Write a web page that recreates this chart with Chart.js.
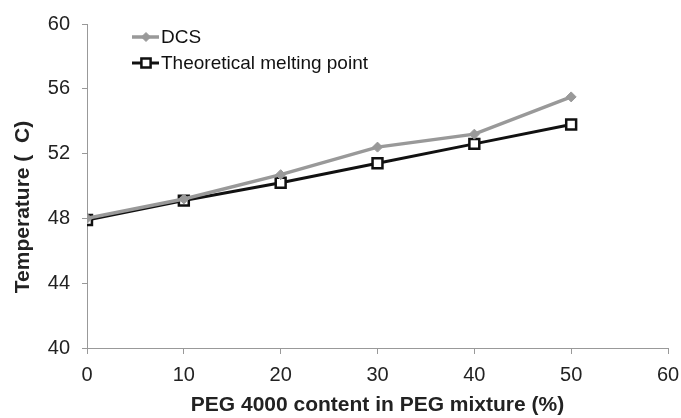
<!DOCTYPE html>
<html>
<head>
<meta charset="utf-8">
<script src="https://cdn.jsdelivr.net/npm/chart.js@4/dist/chart.umd.min.js"></script>
<style>
  body { margin: 0; background: #fff; }
  #wrap { width: 681px; height: 418px; }
</style>
</head>
<body>
<div id="wrap"><canvas id="mycanvas"></canvas></div>
<script>
var pegContent = [0, 10, 20, 30, 40, 50];
var dcsValues = [48.0, 49.2, 50.7, 52.4, 53.2, 55.5];
var theoreticalValues = [47.9, 49.1, 50.2, 51.4, 52.6, 53.8];
var seriesNames = ["DCS", "Theoretical melting point"];
var yTitle = "Temperature (  C)";
var xTitle = "PEG 4000 content in PEG mixture (%)";

var FONT = '"Liberation Sans", Arial, sans-serif';

function toPoints(xs, ys) {
  var pts = [];
  for (var i = 0; i < xs.length; i++) pts.push({ x: xs[i], y: ys[i] });
  return pts;
}

// legend in the top-left of the plot + y title placed like the original
var extras = {
  id: 'extras',
  afterDraw: function(chart) {
    var ctx = chart.ctx;
    var sets = chart.data.datasets;
    var x0 = 132, rows = [37, 63];
    ctx.save();
    for (var i = 0; i < sets.length; i++) {
      var ds = sets[i], y = rows[i];
      ctx.strokeStyle = ds.borderColor;
      ctx.lineWidth = ds.borderWidth;
      ctx.beginPath();
      ctx.moveTo(x0, y);
      ctx.lineTo(x0 + 27, y);
      ctx.stroke();
      ctx.fillStyle = ds.pointBackgroundColor;
      ctx.strokeStyle = ds.pointBorderColor;
      ctx.lineWidth = ds.pointBorderWidth;
      Chart.helpers.drawPoint(ctx, {
        pointStyle: ds.pointStyle,
        radius: ds.pointRadius - 0.5,
        borderWidth: ds.pointBorderWidth
      }, x0 + 14, y);
      ctx.fillStyle = '#111';
      ctx.font = '19px ' + FONT;
      ctx.textBaseline = 'middle';
      ctx.textAlign = 'left';
      ctx.fillText(ds.label, x0 + 29, y + 1);
    }
    ctx.translate(23, 207);
    ctx.rotate(-Math.PI / 2);
    ctx.font = 'bold 21px ' + FONT;
    ctx.fillStyle = '#222';
    ctx.textAlign = 'center';
    ctx.textBaseline = 'middle';
    ctx.fillText(yTitle, 0, 0);
    ctx.restore();
  }
};

var ctx = document.getElementById('mycanvas');

var chartdata = {
  datasets: [
    {
      label: seriesNames[0],
      data: toPoints(pegContent, dcsValues),
      borderColor: '#999999',
      backgroundColor: '#999999',
      borderWidth: 3.5,
      pointStyle: 'rectRot',
      pointRadius: 5,
      pointBackgroundColor: '#999999',
      pointBorderColor: '#999999',
      pointBorderWidth: 1,
      tension: 0,
      fill: false
    },
    {
      label: seriesNames[1],
      data: toPoints(pegContent, theoreticalValues),
      borderColor: '#111111',
      backgroundColor: '#ffffff',
      borderWidth: 3,
      pointStyle: 'rect',
      pointRadius: 7,
      pointBackgroundColor: '#ffffff',
      pointBorderColor: '#111111',
      pointBorderWidth: 2.5,
      tension: 0,
      fill: false
    }
  ]
};

var LineGraph = new Chart(ctx, {
  type: 'line',
  data: chartdata,
  options: {
    responsive: true,
    maintainAspectRatio: false,
    animation: false,
    layout: { padding: { top: 22, right: 13, left: 0, bottom: 0 } },
    plugins: {
      legend: { display: false },
      tooltip: { enabled: false }
    },
    scales: {
      x: {
        type: 'linear',
        min: 0,
        max: 60,
        ticks: {
          stepSize: 10,
          color: '#222',
          padding: 9,
          font: { family: FONT, size: 20 }
        },
        grid: { drawOnChartArea: false, color: '#999', tickLength: 6 },
        border: { color: '#999', width: 1 },
        title: {
          display: true,
          text: xTitle,
          color: '#222',
          padding: { top: 0, bottom: 0 },
          font: { family: FONT, size: 21, weight: 'bold' }
        },
        afterFit: function(scale) {
          scale.height = 70;
          scale.paddingRight = 0;
        }
      },
      y: {
        min: 40,
        max: 60,
        ticks: {
          stepSize: 4,
          color: '#222',
          padding: 12,
          font: { family: FONT, size: 20 }
        },
        grid: { drawOnChartArea: false, color: '#999', tickLength: 5 },
        border: { color: '#999', width: 1 },
        title: { display: false },
        afterFit: function(scale) { scale.width = 87; }
      }
    }
  },
  plugins: [extras]
});
</script>
</body>
</html>
